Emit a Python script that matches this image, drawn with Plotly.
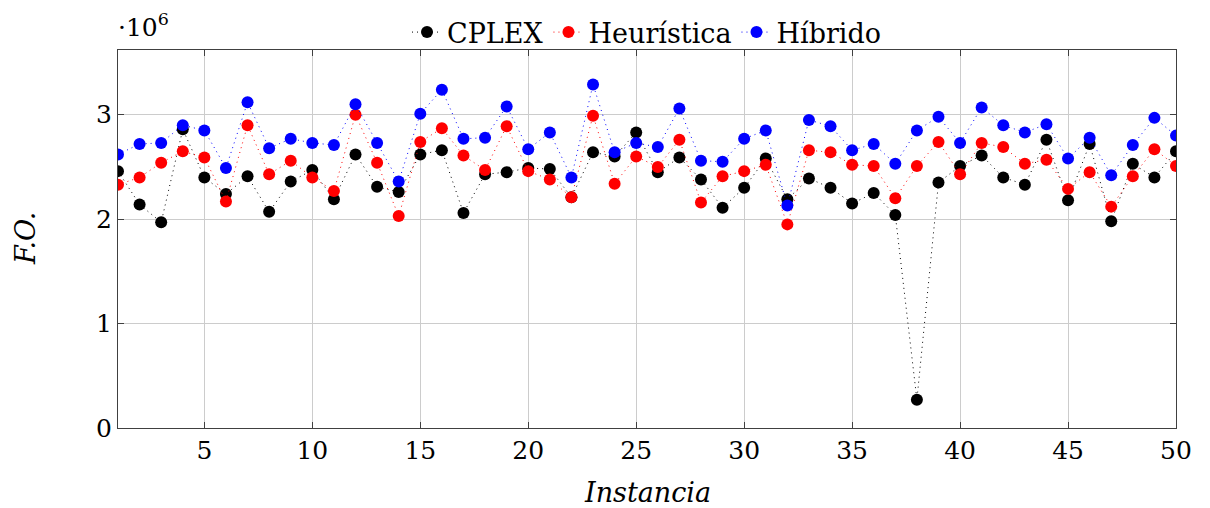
import plotly.graph_objects as go

# Values in units of 10^6
instancias = list(range(1, 51))
cplex = [2.46, 2.14, 1.97, 2.86, 2.40, 2.24, 2.41, 2.07, 2.36, 2.47,
         2.19, 2.62, 2.31, 2.26, 2.62, 2.66, 2.06, 2.43, 2.45, 2.49,
         2.48, 2.21, 2.64, 2.60, 2.83, 2.45, 2.59, 2.38, 2.11, 2.30,
         2.58, 2.19, 2.39, 2.30, 2.15, 2.25, 2.04, 0.27, 2.35, 2.51,
         2.61, 2.40, 2.33, 2.76, 2.18, 2.72, 1.98, 2.53, 2.40, 2.65]
heuristica = [2.33, 2.40, 2.54, 2.65, 2.59, 2.17, 2.90, 2.43, 2.56, 2.40,
              2.27, 3.00, 2.54, 2.03, 2.74, 2.87, 2.61, 2.47, 2.89, 2.46,
              2.38, 2.21, 2.99, 2.34, 2.60, 2.50, 2.76, 2.16, 2.41, 2.46,
              2.52, 1.95, 2.66, 2.64, 2.52, 2.51, 2.20, 2.51, 2.74, 2.43,
              2.73, 2.69, 2.53, 2.57, 2.29, 2.45, 2.12, 2.41, 2.67, 2.51]
hibrido = [2.62, 2.72, 2.73, 2.90, 2.85, 2.49, 3.12, 2.68, 2.77, 2.73,
           2.71, 3.10, 2.73, 2.36, 3.01, 3.24, 2.77, 2.78, 3.08, 2.67,
           2.83, 2.40, 3.29, 2.64, 2.73, 2.69, 3.06, 2.56, 2.55, 2.77,
           2.85, 2.13, 2.95, 2.89, 2.66, 2.72, 2.53, 2.85, 2.98, 2.73,
           3.07, 2.90, 2.83, 2.91, 2.58, 2.78, 2.42, 2.71, 2.97, 2.80]

series_names = ["CPLEX", "Heurística", "Híbrido"]
series_values = [cplex, heuristica, hibrido]
series_colors = ["black", "red", "blue"]

x_ticks = [5, 10, 15, 20, 25, 30, 35, 40, 45, 50]
y_ticks = [0, 1, 2, 3]

FONT = "DejaVu Serif"

fig = go.Figure()
for name, vals, col in zip(series_names, series_values, series_colors):
    fig.add_trace(go.Scatter(
        x=instancias, y=vals, name=name, mode="lines+markers",
        line=dict(color=col, width=1, dash="1px,4px"),
        marker=dict(color=col, size=12),
    ))

axis_common = dict(
    showline=True, linecolor="#404040", linewidth=1.3, mirror="ticks",
    ticks="inside", ticklen=6, tickcolor="#404040",
    showgrid=True, gridcolor="#cccccc", gridwidth=1, zeroline=False,
    automargin=False,
    tickfont=dict(family=FONT, size=25, color="black"),
)

fig.update_xaxes(range=[1, 50], tickvals=x_ticks, **axis_common)
fig.update_yaxes(range=[0, 3.62], tickvals=y_ticks, **axis_common)

# axis titles
fig.add_annotation(text="<i>Instancia</i>", xref="paper", yref="paper", x=0.5, y=0,
                   xanchor="center", yanchor="middle", yshift=-64, showarrow=False,
                   font=dict(family=FONT, size=27, color="black"))
fig.add_annotation(text="<i>F.O.</i>", xref="paper", yref="paper", x=0, y=0.5,
                   xanchor="center", yanchor="middle", xshift=-93, textangle=-90,
                   showarrow=False, font=dict(family=FONT, size=27, color="black"))

fig.add_annotation(text="·10<sup>6</sup>", xref="paper", yref="paper", x=0, y=1.0,
                   xanchor="left", yanchor="bottom", showarrow=False, yshift=6, xshift=-2,
                   font=dict(family=FONT, size=25, color="black"))

fig.update_layout(
    width=1202, height=500,
    margin=dict(l=110, r=34, t=42, b=80, autoexpand=False),
    plot_bgcolor="white", paper_bgcolor="white",
    font=dict(family=FONT, size=25, color="black"),
    legend=dict(orientation="h", x=0.5, xanchor="center", y=1.111, yanchor="top",
                font=dict(family=FONT, size=27, color="black"),
                itemwidth=30, tracegroupgap=0, bgcolor="rgba(0,0,0,0)"),
    showlegend=True,
)

fig.write_html("out.html")
